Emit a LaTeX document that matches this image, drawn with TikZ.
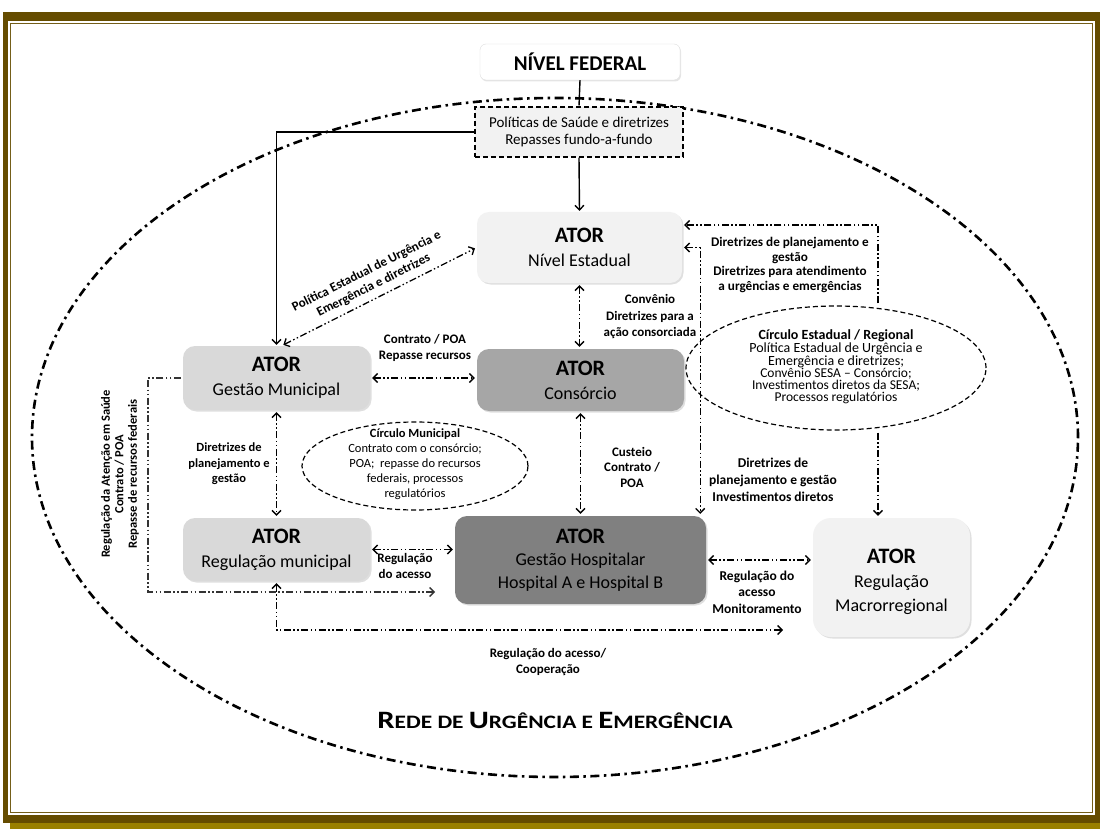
\documentclass[tikz,border=0pt]{standalone}
\usepackage{fontspec}
\setmainfont{Carlito}
\usetikzlibrary{arrows.meta,shadows,shapes.geometric,calc}
\definecolor{fbrown}{HTML}{654C00}
\definecolor{fgold}{HTML}{9A8000}
\definecolor{gA}{HTML}{F2F2F2}
\definecolor{gB}{HTML}{D9D9D9}
\definecolor{gC}{HTML}{A6A6A6}
\definecolor{gD}{HTML}{808080}
\newcommand\bigC[1]{{\fontsize{25}{25}\selectfont #1}}
\newcommand\smC[1]{{\fontsize{19}{19}\selectfont #1}}
\begin{document}
\begin{tikzpicture}[x=1pt,y=-1pt,
  >={Straight Barb[length=4.5pt,width=9pt]},
  dd/.style={line width=1.3pt, dash pattern=on 7pt off 2.5pt on 1.5pt off 2.5pt on 1.5pt off 2.5pt, shorten >=2pt, shorten <=2pt},
  sl/.style={line width=1.4pt, shorten >=1pt},
  actor/.style={rounded corners=12pt, align=center, inner sep=0pt,
    font=\fontsize{18}{24}\selectfont,
    drop shadow={opacity=0.25, shadow xshift=1.5pt, shadow yshift=-1.5pt}},
  lab/.style={align=center, font=\fontsize{13}{15.5}\selectfont\bfseries, inner sep=0pt},
  circ/.style={ellipse, draw, line width=1.2pt, dash pattern=on 5pt off 3pt, inner sep=0pt, align=center}
]
\useasboundingbox (0,0) rectangle (1100,829);
% frame
\fill[fgold] (10,818) rectangle (1100,829);
\fill[fbrown] (3,12) rectangle (1100,823);
\fill[white] (8,21) rectangle (1095,815);
\draw[fbrown!90, line width=1.8pt] (10.5,23.5) rectangle (1092.5,812.5);
% big network ellipse
\draw[line width=2.6pt, dash pattern=on 9pt off 4.5pt on 2.5pt off 4.5pt] (555,437.5) ellipse [x radius=523pt, y radius=339.5pt];

% nodes
\node[rounded corners=6pt, fill=white, draw=gray!25, minimum width=200pt, minimum height=36pt,
  font=\fontsize{21}{24}\selectfont\bfseries,
  drop shadow={opacity=0.2, shadow xshift=1pt, shadow yshift=-1.5pt}] (fed) at (580,62) {NÍVEL FEDERAL};
\node[draw, line width=1.2pt, dash pattern=on 5pt off 3pt, fill=gA, minimum width=208pt, minimum height=50pt, align=center, inner sep=0pt,
  font=\fontsize{15}{17}\selectfont] (pol) at (579,132) {Políticas de Saúde e diretrizes\\Repasses fundo-a-fundo};

\node[circ, fill=white, minimum width=300pt, minimum height=124pt] (ce) at (836,368) {};
\node[align=center, inner sep=0pt] (cet) at (836,367) {{\fontsize{14}{15}\selectfont\bfseries Círculo Estadual / Regional}\\
  {\fontsize{14}{15}\selectfont Política Estadual de Urgência e}\\
  {\fontsize{14}{14}\selectfont Emergência e diretrizes;}\\
  {\fontsize{13.5}{13}\selectfont Convênio SESA -- Consórcio;}\\
  {\fontsize{13.5}{13}\selectfont Investimentos\ diretos da SESA;}\\
  {\fontsize{13.5}{13}\selectfont Processos regulatórios}};
\node[circ, minimum width=226pt, minimum height=88pt] (cm) at (415,466) {};
\node[align=center, inner sep=0pt, font=\fontsize{12.5}{15}\selectfont] (cmt) at (415,464) {\textbf{Círculo Municipal}\\
  Contrato com o consórcio;\\POA;\ \ repasse do recursos\\federais, processos\\regulatórios};

\node[actor, fill=gA, minimum width=205pt, minimum height=71pt] (est) at (579.5,247.5) {{\fontsize{22}{22}\selectfont\bfseries ATOR}\\Nível Estadual};
\node[actor, fill=gB, minimum width=187pt, minimum height=64pt] (gm) at (276.5,378) {{\fontsize{22}{22}\selectfont\bfseries ATOR}\\Gestão Municipal};
\node[actor, fill=gC, minimum width=207pt, minimum height=62pt] (cons) at (580.5,380) {{\fontsize{22}{22}\selectfont\bfseries ATOR}\\Consórcio};
\node[actor, fill=gB, minimum width=187pt, minimum height=63pt] (rm) at (276.5,549.5) {{\fontsize{22}{22}\selectfont\bfseries ATOR}\\Regulação municipal};
\node[actor, fill=gD, minimum width=251pt, minimum height=88pt, font=\fontsize{18}{22.5}\selectfont] (hosp) at (580.5,560) {{\fontsize{22}{22}\selectfont\bfseries ATOR}\\Gestão Hospitalar\\Hospital A e Hospital B};
\node[actor, fill=gA, rounded corners=18pt, minimum width=157pt, minimum height=119pt, font=\fontsize{18}{24}\selectfont] (macro) at (891.5,577.5) {};
\node[align=center, inner sep=0pt, font=\fontsize{18}{24}\selectfont] (macrot) at (891.5,582) {{\fontsize{22}{22}\selectfont\bfseries ATOR}\\Regulação\\Macrorregional};

% coordinates
\coordinate (rx) at (878,225);
\coordinate (hl) at (437,592);
\coordinate (ml) at (785,630);
\coordinate (ll) at (148,378);

% connectors
\draw[sl] (fed.south) -- (pol.north);
\draw[sl,->] (pol.south) -- (est.north);
\draw[sl,->] (pol.west) -| (gm.north);
\draw[dd,<->] ([xshift=5pt]gm.north) -- (est.west)
  node[lab, midway, sloped, above=6pt] (ldiag) {Política Estadual de Urgência e\\Emergência e diretrizes};
\draw[dd,<->] (est.south) -- (est.south |- cons.north);
\draw[dd,<->] (gm.east) -- (gm.east -| cons.west);
\draw[dd,<->] (gm.south) -- (rm.north);
\draw[dd,<->] (cons.south) -- (hosp.north);
\draw[dd,<->] (rm.east) -- (rm.east -| hosp.west);
\draw[dd,<->] (hosp.east) -- (hosp.east -| macro.west);
\draw[dd,<->] (est.east) -| ([xshift=-6pt]hosp.north east);
\draw[dd,->] (ce.north -| rx) -- (rx) -- (rx -| est.east);
\draw[dd,->] (ce.south -| rx) -- (rx |- macro.north);
\draw[dd,->,draw=black!80] (gm.west) -- (ll) |- (hl);
\draw[dd,<->] (rm.south) |- (ml);

% labels
\node[lab] (l1) at (425,348) {Contrato / POA\\Repasse recursos};
\node[lab, font=\fontsize{13}{16.5}\selectfont\bfseries] (l2) at (650,317) {Convênio\\Diretrizes para a\\ação consorciada};
\node[lab, font=\fontsize{13.2}{14.8}\selectfont\bfseries] (l3) at (790,265) {Diretrizes de planejamento e\\gestão\\Diretrizes para atendimento\\a urgências e emergências};
\node[lab, font=\fontsize{12.5}{15.5}\selectfont\bfseries] (l4) at (229,464) {Diretrizes de\\planejamento e\\gestão};
\node[lab] (l5) at (632,467) {Custeio\\Contrato /\\POA};
\node[lab, font=\fontsize{13.5}{17}\selectfont\bfseries] (l6) at (773,480) {Diretrizes de\\planejamento e gestão\\Investimentos diretos};
\node[lab] (l7) at (405,566) {Regulação\\do acesso};
\node[lab, font=\fontsize{13.5}{16.5}\selectfont\bfseries] (l8) at (757,592) {Regulação do\\acesso\\Monitoramento};
\node[lab] (l9) at (548,662) {Regulação do acesso/\\Cooperação};
\node[lab, rotate=90, font=\fontsize{12.5}{13.5}\selectfont\bfseries] (l10) at (120,474) {Regulação da Atenção em Saúde\\Contrato / POA\\Repasse de recursos federais};

\node[font=\bfseries] (title) at (555,720) {\scalebox{1.23}[1]{\bigC{R}\smC{EDE DE }\bigC{U}\smC{RGÊNCIA E }\bigC{E}\smC{MERGÊNCIA}}};
\end{tikzpicture}
\end{document}
